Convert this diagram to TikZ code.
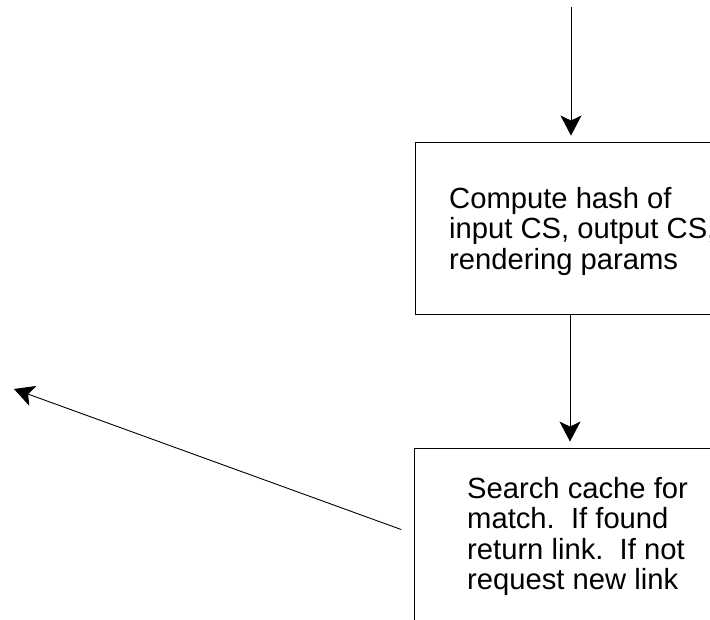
\documentclass[tikz,border=0pt]{standalone}
\usepackage{fontspec}
\setmainfont{Liberation Sans}
\usetikzlibrary{arrows.meta}
\begin{document}
\begin{tikzpicture}[x=1pt,y=-1pt,
  procbox/.style={draw=black,line width=0.9pt,minimum width=312pt,minimum height=172pt,inner sep=0pt},
  boxtext/.style={anchor=north west,inner sep=0pt,align=left,
    font=\fontsize{29.2}{30.5}\selectfont},
  flow/.style={line width=0.9pt,-{Stealth[length=20pt,width=21pt,inset=5pt]}}]
  \useasboundingbox (0,0) rectangle (710,619);
  \clip (0,0) rectangle (710,619);
  % process boxes
  \node[procbox] (hash) at (571,228) {};
  \node[procbox] (search) at (570,534) {};
  \node[boxtext] (hashtext) at (449,187)
    {Compute hash of\\input CS, output CS,\\rendering params};
  \node[boxtext] (searchtext) at (467,477)
    {Search cache for\\match.\ \ If found\\return link.\ \ If not\\request new link};
  % connectors
  \coordinate (entry) at (571,7);
  \coordinate (result) at (14,389);
  \draw[flow,shorten >=6pt] (entry) -- (hash.north);
  \draw[flow,shorten >=6pt] (hash.south -| search.north) -- (search.north);
  \draw[flow,shorten <=13pt] (search.west) -- (result);
\end{tikzpicture}
\end{document}
